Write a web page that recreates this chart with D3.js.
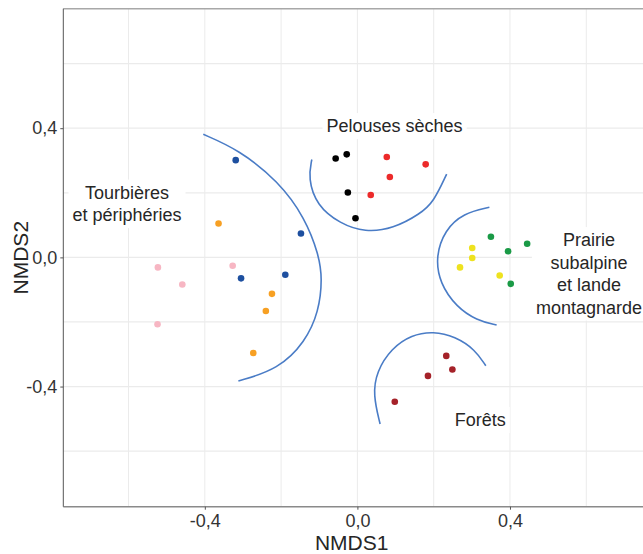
<!DOCTYPE html>
<html>
<head>
<meta charset="utf-8">
<script src="https://cdn.jsdelivr.net/npm/d3@7"></script>
<style>
  html, body { margin: 0; padding: 0; background: #fff; }
  svg { display: block; font-family: "Liberation Sans", Arial, Helvetica, sans-serif; }
</style>
</head>
<body>
<svg id="chart" width="643" height="554"></svg>
<script>
// ---------- DATA (NMDS1, NMDS2) ----------
const tourbBlue   = [[-0.319, 0.301], [-0.148, 0.074], [-0.305, -0.065], [-0.189, -0.054]];
const tourbOrange = [[-0.364, 0.105], [-0.224, -0.113], [-0.240, -0.166], [-0.273, -0.296]];
const tourbPink   = [[-0.523, -0.031], [-0.459, -0.084], [-0.524, -0.207], [-0.327, -0.026]];
const pelBlack    = [[-0.057, 0.306], [-0.028, 0.319], [-0.025, 0.201], [-0.005, 0.121]];
const pelRed      = [[0.077, 0.311], [0.179, 0.288], [0.085, 0.249], [0.035, 0.193]];
const praYellow   = [[0.301, 0.029], [0.301, -0.002], [0.269, -0.031], [0.373, -0.056]];
const praGreen    = [[0.350, 0.064], [0.445, 0.042], [0.395, 0.019], [0.402, -0.082]];
const foretDark   = [[0.233, -0.305], [0.249, -0.347], [0.185, -0.367], [0.098, -0.447]];

const seriesList = [tourbPink, tourbOrange, tourbBlue, pelBlack, pelRed, praYellow, praGreen, foretDark];

// group hull arcs (data units)
const arcTourb = [[-0.404, 0.381], [-0.312, 0.334], [-0.207, 0.236], [-0.137, 0.122], [-0.101, 0.007],
                  [-0.092, -0.065], [-0.101, -0.168], [-0.137, -0.262], [-0.207, -0.346], [-0.312, -0.383]];
const arcPel   = [[-0.1195, 0.303], [-0.129, 0.245], [-0.107, 0.161], [-0.045, 0.104], [0.020, 0.078],
                  [0.094, 0.089], [0.165, 0.135], [0.200, 0.172], [0.234, 0.258]];
const arcPra   = [[0.346, 0.155], [0.278, 0.137], [0.229, 0.0845], [0.205, 0.002], [0.216, -0.0805],
                  [0.260, -0.154], [0.313, -0.195], [0.365, -0.2096]];
const arcFor   = [[0.3366, -0.3356], [0.309, -0.286], [0.256, -0.245], [0.199, -0.229], [0.142, -0.240],
                  [0.089, -0.282], [0.050, -0.354], [0.041, -0.426], [0.0595, -0.516]];
const arcList = [arcTourb, arcPel, arcPra, arcFor];

// group labels: [x, y of first baseline, lines]
const labelX     = [-0.604, 0.0975, 0.607, 0.322];
const labelY     = [0.182, 0.388, 0.035, -0.522];
const labelLines = [["Tourbières", "et périphéries"], ["Pelouses sèches"],
                    ["Prairie", "subalpine", "et lande", "montagnarde"], ["Forêts"]];

const xTicks = [-0.4, 0.0, 0.4];
const yTicks = [-0.4, 0.0, 0.4];
const gridVals = [-0.6, -0.4, -0.2, 0.0, 0.2, 0.4, 0.6];
const xTitle = "NMDS1", yTitle = "NMDS2";

// ---------- STYLE ----------
const seriesColors = ["#f7b6c3", "#f7a023", "#1d4f9f", "#000000", "#ec2a2a", "#eee21f", "#1a9a46", "#a52229"];
const arcColor = "#4a7cc6";

// ---------- SCALES ----------
const svg = d3.select("#chart");
const L = 63.3, R = 651.5, T = 8.7, B = 506.7;
const x = d3.scaleLinear().domain([-0.771, 0.771]).range([L, R]);
const y = d3.scaleLinear().domain([-0.772, 0.770]).range([B, T]);

const loc = d3.formatLocale({decimal: ",", thousands: " ", grouping: [3], currency: ["", "€"], minus: "-"});
const fmt = loc.format(".1f");

// grid
const grid = svg.append("g");
grid.selectAll("line.v").data(gridVals).join("line")
  .attr("x1", d => x(d)).attr("x2", d => x(d)).attr("y1", T).attr("y2", B)
  .attr("stroke", "#ebebeb").attr("stroke-width", 1);
grid.selectAll("line.h").data(gridVals).join("line")
  .attr("y1", d => y(d)).attr("y2", d => y(d)).attr("x1", L).attr("x2", 643)
  .attr("stroke", "#ebebeb").attr("stroke-width", 1.3);

// top border
svg.append("line").attr("x1", L).attr("x2", 643).attr("y1", T).attr("y2", T)
  .attr("stroke", "#a8a8a8").attr("stroke-width", 1.6);

// arcs
const line = d3.line().x(d => x(d[0])).y(d => y(d[1])).curve(d3.curveBasis);
svg.append("g").selectAll("path").data(arcList).join("path")
  .attr("d", line).attr("fill", "none").attr("stroke", arcColor).attr("stroke-width", 1.6);

// points
seriesList.forEach((s, i) => {
  svg.append("g").selectAll("circle").data(s).join("circle")
    .attr("cx", d => x(d[0])).attr("cy", d => y(d[1])).attr("r", 3.3)
    .attr("fill", seriesColors[i]);
});

// labels with white background
const lh = 22.5;
labelLines.forEach((lines, i) => {
  const g = svg.append("g");
  const rect = g.append("rect").attr("fill", "#fff");
  const t = g.append("text").attr("font-size", 18).attr("fill", "#262626").attr("text-anchor", "middle");
  lines.forEach((ln, j) => {
    t.append("tspan").attr("x", x(labelX[i])).attr("y", y(labelY[i]) + j * lh).text(ln);
  });
  const bb = t.node().getBBox();
  rect.attr("x", bb.x - 4).attr("y", bb.y - 3).attr("width", bb.width + 8).attr("height", bb.height + 6);
});

// axes
const xAxis = svg.append("g").attr("transform", `translate(0,${B})`)
  .call(d3.axisBottom(x).tickValues(xTicks).tickFormat(fmt).tickSize(3).tickPadding(5));
const yAxis = svg.append("g").attr("transform", `translate(${L},0)`)
  .call(d3.axisLeft(y).tickValues(yTicks).tickFormat(fmt).tickSize(3).tickPadding(3));
[xAxis, yAxis].forEach(a => {
  a.selectAll("text").attr("font-size", 18).attr("fill", "#333").attr("font-family", "Liberation Sans, Arial, sans-serif");
  a.selectAll(".tick line").attr("stroke", "#555");
});
xAxis.select(".domain").attr("stroke", "#8a8a8a").attr("stroke-width", 1.6).attr("d", `M${L},0H643`);
yAxis.select(".domain").attr("stroke", "#555").attr("stroke-width", 1).attr("d", `M0,${T}V${B}`);

// titles
svg.append("text").attr("x", (L + 640) / 2).attr("y", 550).attr("text-anchor", "middle")
  .attr("font-size", 21).attr("fill", "#262626").text(xTitle);
svg.append("text").attr("transform", `translate(28,${(T + B) / 2}) rotate(-90)`).attr("text-anchor", "middle")
  .attr("font-size", 21).attr("fill", "#262626").text(yTitle);
</script>
</body>
</html>
